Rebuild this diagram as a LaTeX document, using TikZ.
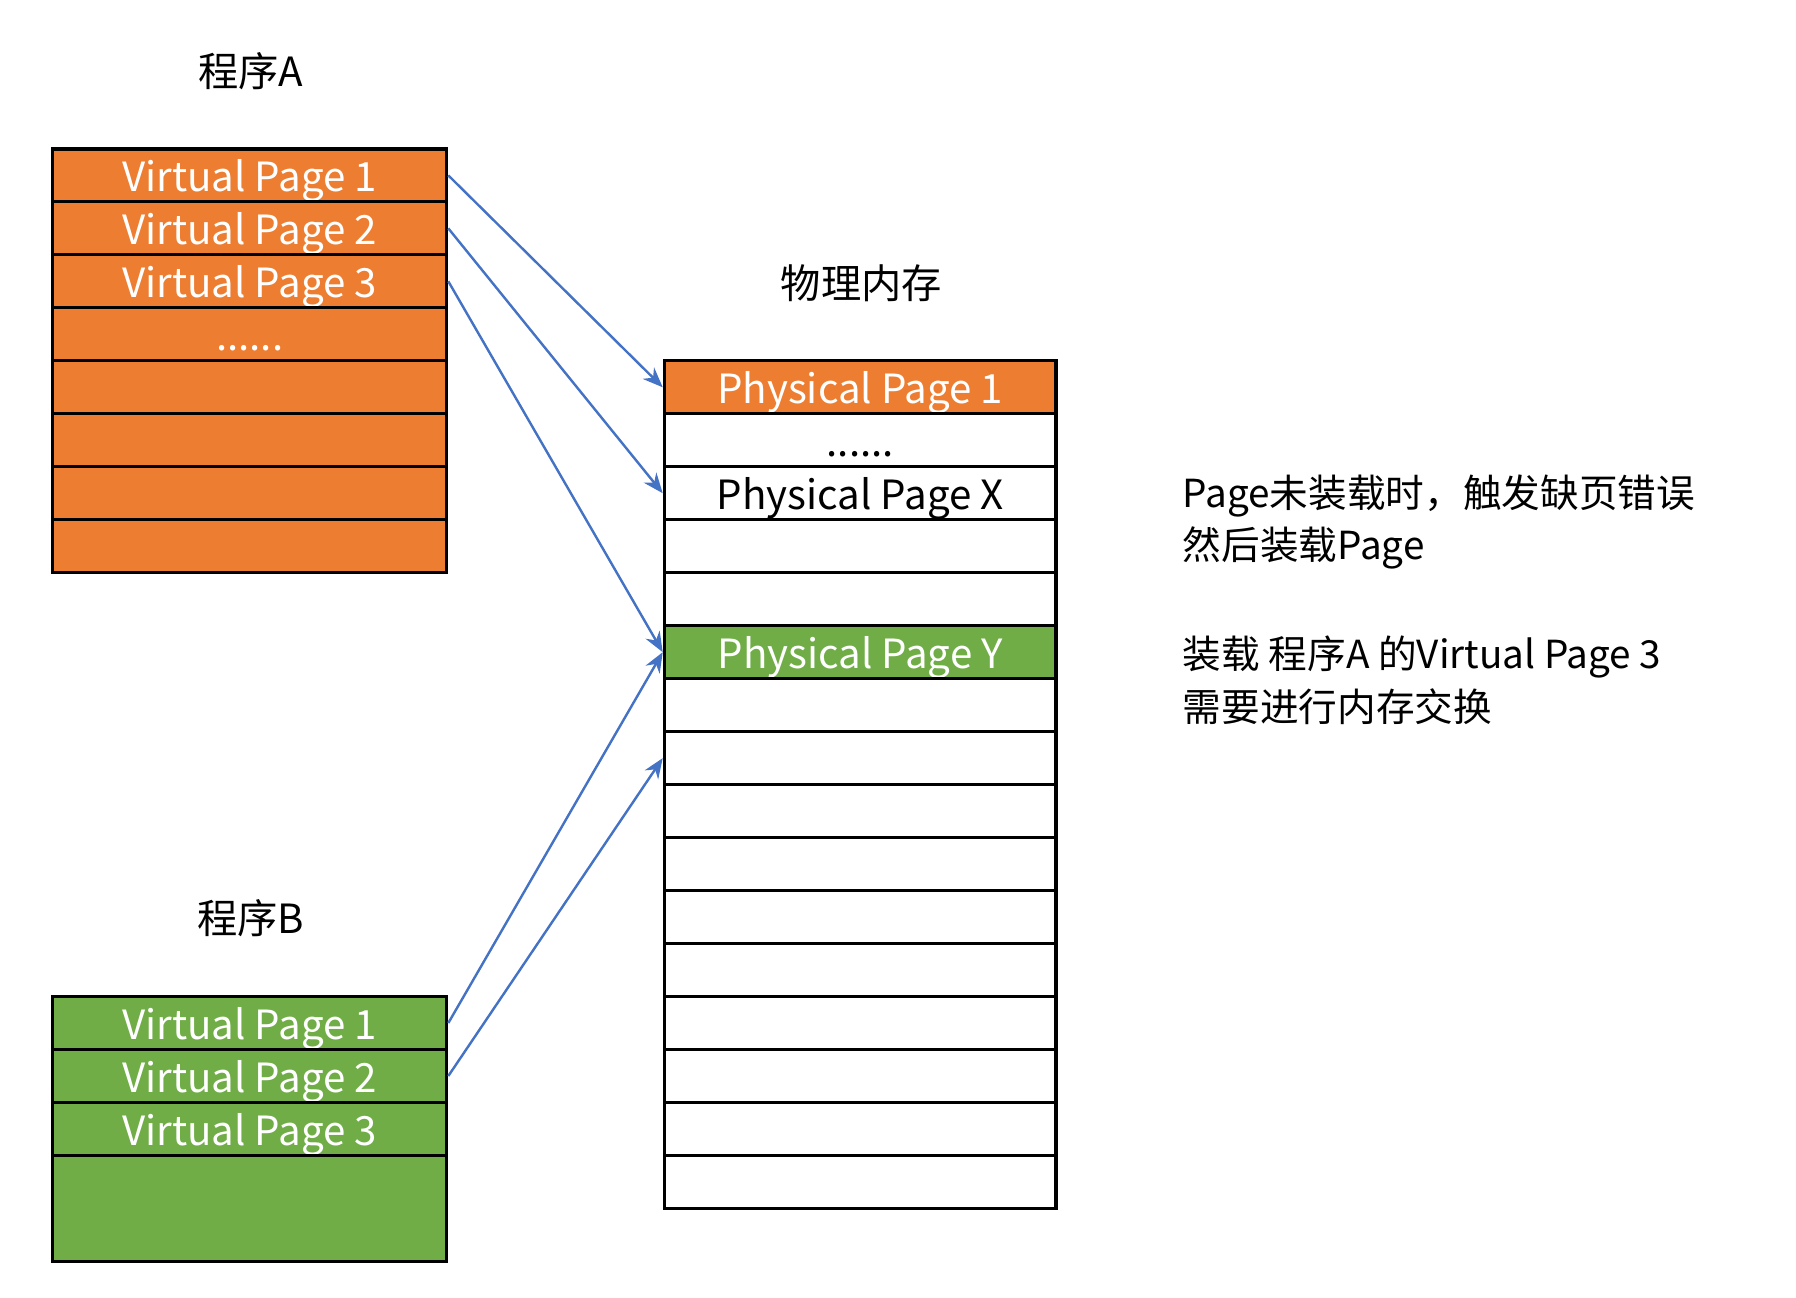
\documentclass[tikz,border=0pt]{standalone}
\usepackage{fontspec}
\setmainfont{Noto Sans CJK SC}
\usetikzlibrary{arrows.meta}
\definecolor{pageorange}{HTML}{ED7D31}
\definecolor{pagegreen}{HTML}{70AD47}
\definecolor{mapblue}{HTML}{4472C4}
\newcommand{\rowdots}{......}

\begin{document}
\begin{tikzpicture}[font=\fontsize{10}{13}\selectfont,
	page/.style={draw, line width=0.8pt, minimum width=3.44cm, minimum height=0.4625cm, inner sep=0pt, text height=0.85em, text depth=0.05em},
	opage/.style={page, fill=pageorange, text=white},
	gpage/.style={page, fill=pagegreen, text=white},
	wpage/.style={page, fill=white, minimum width=3.42cm},
	note/.style={anchor=west, align=left, inner sep=0pt, font=\fontsize{9.6}{13}\selectfont},
	map/.style={draw=mapblue, line width=0.6pt, -{Stealth[length=5pt, width=4pt]}}]
	\def\rowH{0.4625}
	\def\topA{10.03}
	\def\topP{8.18}
	\def\topB{2.63}
	\useasboundingbox (0,0) rectangle (15.68,11.33);

	% program A
	\node (labA) at (2.19,10.71) {程序A};
	\foreach \i/\t in {1/Virtual Page 1, 2/Virtual Page 2, 3/Virtual Page 3, 4/\rowdots, 5/, 6/, 7/, 8/}
		\node[opage] (a\i) at (2.18,\topA-\rowH*\i+0.5*\rowH) {\t};

	% physical memory
	\node (labP) at (7.52,8.86) {物理内存};
	\foreach \i/\t/\s in {1/Physical Page 1/opage, 2/\rowdots/wpage, 3/Physical Page X/wpage, 4//wpage, 5//wpage, 6/Physical Page Y/gpage, 7//wpage, 8//wpage, 9//wpage, 10//wpage, 11//wpage, 12//wpage, 13//wpage, 14//wpage, 15//wpage, 16//wpage}
		\node[\s, minimum width=3.42cm] (p\i) at (7.51,\topP-\rowH*\i+0.5*\rowH) {\t};

	% program B
	\node (labB) at (2.19,3.31) {程序B};
	\foreach \i in {1,2,3}
		\node[gpage] (b\i) at (2.18,\topB-\rowH*\i+0.5*\rowH) {Virtual Page \i};
	\node[gpage, minimum height=0.925cm] (b4) at (2.18,\topB-4*\rowH) {};

	\draw[map]	(a1.east) -- (p1.west);
	\draw[map]	(a2.east) -- (p3.west);
	\draw[map]	(a3.east) -- (p6.west);
	\draw[map]	(b1.east) -- (p6.west);
	\draw[map]	(b2.east) -- (p8.west);

	\node[note] (note1) at (10.32,6.77) {Page未装载时，触发缺页错误\\然后装载Page};
	\node[note] (note2) at (10.32,5.39) {装载 程序A 的Virtual Page 3\\需要进行内存交换};
\end{tikzpicture}
\end{document}
